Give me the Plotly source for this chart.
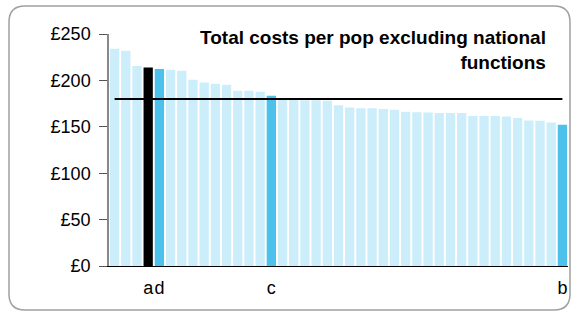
import plotly.graph_objects as go

# ---- data ----
values = [234, 232, 215.4, 213.8, 212.2, 211.4, 210.4, 200.6, 197.8, 196.3,
          195.3, 188.8, 188.8, 187.7, 183.5, 179.6, 179.2, 178.7, 178.5, 178.2,
          173.2, 170.8, 170.1, 170.0, 169.2, 168.5, 166.3, 165.7, 165.5, 165.0,
          165.0, 165.0, 161.7, 161.7, 161.6, 161.0, 159.6, 156.8, 156.6, 154.6,
          152.3]
highlight_black = [3]
highlight_blue = [4, 14, 40]
tick_positions = [3, 4, 14, 40]
tick_labels = ["a", "d", "c", "b"]
AVERAGE = 180
title_text = "Total costs per pop excluding national<br>functions"
y_ticks = [0, 50, 100, 150, 200, 250]
y_tick_labels = ["£0", "£50", "£100", "£150", "£200", "£250"]

LIGHT = "#CCEDFA"
BLUE = "#4BC1EC"
x = list(range(len(values)))
colors = []
for i in x:
    if i in highlight_black:
        colors.append("#000000")
    elif i in highlight_blue:
        colors.append(BLUE)
    else:
        colors.append(LIGHT)

fig = go.Figure()
fig.add_trace(go.Bar(x=x, y=values, marker=dict(color=colors, line=dict(width=0)),
                     hoverinfo="y"))
fig.add_trace(go.Scatter(x=x, y=[AVERAGE] * len(x), mode="lines",
                         line=dict(color="black", width=2), hoverinfo="skip"))

W, H = 572, 312
L, R, T, B = 109, 568, 34, 266
pw, ph = R - L, B - T


def px(xp):
    return (xp - L) / pw


def py(yp):
    return (B - yp) / ph


# rounded border
x0, x1, y0, y1, r = 9, 570, 6, 310, 16
path = (f"M {px(x0 + r)},{py(y0)} L {px(x1 - r)},{py(y0)} "
        f"Q {px(x1)},{py(y0)} {px(x1)},{py(y0 + r)} "
        f"L {px(x1)},{py(y1 - r)} Q {px(x1)},{py(y1)} {px(x1 - r)},{py(y1)} "
        f"L {px(x0 + r)},{py(y1)} Q {px(x0)},{py(y1)} {px(x0)},{py(y1 - r)} "
        f"L {px(x0)},{py(y0 + r)} Q {px(x0)},{py(y0)} {px(x0 + r)},{py(y0)} Z")

fig.update_layout(
    width=W, height=H,
    margin=dict(l=L, r=W - R, t=T, b=H - B),
    paper_bgcolor="white", plot_bgcolor="white",
    showlegend=False,
    bargap=0.17,
    font=dict(family="Liberation Sans, Arial, sans-serif", size=18, color="black"),
    shapes=[dict(type="path", path=path, xref="paper", yref="paper",
                 line=dict(color="#A0A0A0", width=1.5), layer="below")],
    annotations=[dict(text="<b>" + title_text + "</b>", xref="paper", yref="paper",
                      x=px(548), y=py(25), xanchor="right", yanchor="top",
                      align="right", showarrow=False,
                      font=dict(size=19, color="black"))],
)
fig.update_xaxes(range=[-0.5, len(values) - 0.5], tickvals=tick_positions,
                 ticktext=tick_labels, tickangle=0, ticklabeloverflow="allow",
                 showline=True, linecolor="black", linewidth=1,
                 ticks="outside", ticklen=5, tickcolor="rgba(0,0,0,0)",
                 showgrid=False, zeroline=False, fixedrange=True)
fig.update_yaxes(range=[0, 250], tickvals=y_ticks, ticktext=y_tick_labels,
                 showline=True, linecolor="#888888", linewidth=1.5,
                 ticks="outside", ticklen=8, tickcolor="#555555",
                 ticklabelstandoff=5,
                 showgrid=False, zeroline=False, fixedrange=True)

fig.write_html("out.html", config={"displayModeBar": False},
               post_script="document.body.style.margin='0';")
